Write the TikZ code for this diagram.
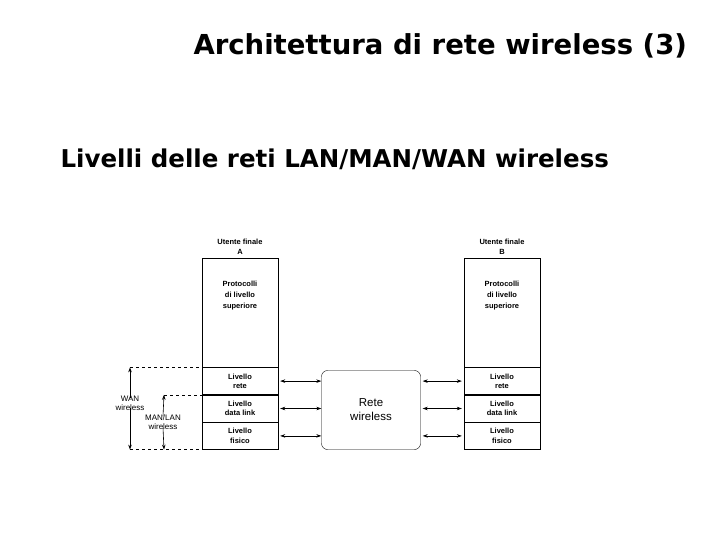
\documentclass[tikz,border=0pt]{standalone}
\usepackage{fontspec}
\setmainfont{DejaVu Sans}
\newfontfamily\diagfont{Liberation Sans}
\usetikzlibrary{arrows.meta,positioning}

\tikzset{
	layer/.style={draw, minimum width=76pt, inner sep=0pt, align=center,
		font=\diagfont\bfseries\fontsize{7.5}{9.5}\selectfont},
	upper/.style={layer, minimum height=109pt},
	low/.style={layer, minimum height=27pt},
	txt/.style={align=center, inner sep=0pt, font=\diagfont\bfseries\fontsize{7.5}{11}\selectfont},
	link/.style={{Stealth[length=5pt,width=3.5pt]}-{Stealth[length=5pt,width=3.5pt]}, semithick},
	span/.style={-{Stealth[length=5pt,width=3.5pt]}, semithick},
	guide/.style={dashed, semithick}
}

\begin{document}
\begin{tikzpicture}[x=1pt,y=-1pt]
				\useasboundingbox (0,0) rectangle (720,540);

				\node[anchor=base west, font=\bfseries\fontsize{27.5}{30}\selectfont] (title) at (190,55) {Architettura di rete wireless (3)};
				\node[anchor=base west, font=\bfseries\fontsize{24.5}{28}\selectfont] (sub) at (57,168) {Livelli delle reti LAN/MAN/WAN wireless};

				% stack A
				\node[upper, anchor=north] (supA) at (240,258) {};
				\node[low, below=0pt of supA] (netA) {Livello\\rete};
				\node[low, below=0pt of netA] (dlA) {Livello\\data link};
				\node[low, below=0pt of dlA] (phA) {Livello\\fisico};
				\node[txt, below=23pt of supA.north] (pA) {Protocolli\\di livello\\superiore};
				\node[txt, above=3pt of supA, font=\diagfont\bfseries\fontsize{7.5}{10}\selectfont] (uA) {Utente finale\\A};

				% stack B
				\node[upper, anchor=north] (supB) at (502,258) {};
				\node[low, below=0pt of supB] (netB) {Livello\\rete};
				\node[low, below=0pt of netB] (dlB) {Livello\\data link};
				\node[low, below=0pt of dlB] (phB) {Livello\\fisico};
				\node[txt, below=23pt of supB.north] (pB) {Protocolli\\di livello\\superiore};
				\node[txt, above=3pt of supB, font=\diagfont\bfseries\fontsize{7.5}{10}\selectfont] (uB) {Utente finale\\B};

				% wireless network
				\node[draw, rounded corners=6pt, minimum width=99pt, minimum height=79pt,
					align=center, font=\diagfont\fontsize{11.5}{14}\selectfont] (net) at (371,410) {Rete\\wireless};

				\foreach \l in {netA, dlA, phA}{
						\draw[link] ([xshift=2pt]\l.east) -- (net.west |- \l.east);
					}
				\foreach \l in {netB, dlB, phB}{
						\draw[link] ([xshift=2pt]net.east |- \l.west) -- ([xshift=-2pt]\l.west);
					}

				% span markers
				\coordinate (wanT) at (130,0 |- netA.north west);
				\coordinate (wanB) at (130,0 |- phA.south west);
				\coordinate (manT) at (164,0 |- dlA.north west);
				\coordinate (manB) at (164,0 |- phA.south west);
				\draw[guide] (wanT) -- (netA.north west);
				\draw[guide] (manT) -- (dlA.north west);
				\draw[guide] (wanB) -- (phA.south west);

				\node[txt, font=\diagfont\fontsize{8}{9}\selectfont] (wan) at (130,403) {WAN\\wireless};
				\node[txt, font=\diagfont\fontsize{8}{9}\selectfont] (man) at (163,422) {MAN/LAN\\wireless};
				\draw[span] ([yshift=-2pt]wan.north) -- (wanT);
				\draw[span] ([yshift=2pt]wan.south) -- (wanB);
				\draw[span] ([yshift=-2pt]man.north) -- (manT);
				\draw[span] ([yshift=2pt]man.south) -- (manB);
			\end{tikzpicture}
\end{document}
